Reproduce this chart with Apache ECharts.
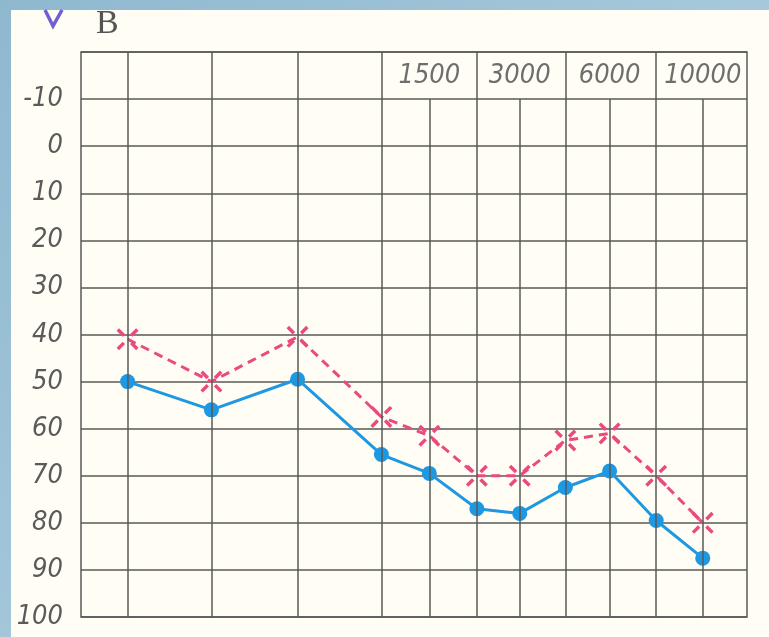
<!DOCTYPE html>
<html>
<head>
<meta charset="utf-8">
<script src="https://cdn.jsdelivr.net/npm/echarts@6/dist/echarts.min.js"></script>
<style>
  html, body { margin: 0; padding: 0; }
  body {
    width: 769px; height: 637px; overflow: hidden; position: relative;
    background: linear-gradient(135deg, #8fb8cf 0%, #a9cadc 60%, #9cc1d6 100%);
  }
  #paper {
    position: absolute; left: 11px; top: 10px; right: 0; bottom: 0;
    background: #fffdf4;
  }
  #chart { position: absolute; left: 0; top: 0; width: 769px; height: 637px; }
</style>
</head>
<body>
<div id="paper"></div>
<div id="chart"></div>
<script>
// частоты (Гц) и их место на шкале аудиограммы
const freqs = [125, 250, 500, 1000, 1500, 2000, 3000, 4000, 6000, 8000, 10000];
const freqPos = [1, 2.8, 4.65, 6.45, 7.48, 8.5, 9.42, 10.4, 11.35, 12.35, 13.35];
const posMax = 14.3;
// подписи частот в верхней строке
const topLabels = ['1500', '3000', '6000', '10000'];
// пороги слуха, дБ
const boneValues = [50, 56, 49.5, 65.5, 69.5, 77, 78, 72.5, 69, 79.5, 87.5];
const airValues = [41, 50, 40.5, 57.5, 61.5, 70, 70, 62.5, 61, 70, 80];

const gridColor = '#595959';
const labelFont = '"Liberation Sans Narrow", "DejaVu Sans Condensed", sans-serif';
const chart = echarts.init(document.getElementById('chart'));

// вертикальные линии сетки: полные и укороченные (под подписями)
const fullLines = [];
const shortLines = [];
freqs.forEach(function (f, i) {
  if (topLabels.indexOf(String(f)) >= 0) {
    shortLines.push([{ coord: [freqPos[i], -10] }, { coord: [freqPos[i], 100] }]);
  } else {
    fullLines.push({ xAxis: freqPos[i] });
  }
});

const crossPath = 'path://M1,3 L3,1 L8,6 L6,8 Z M17,1 L19,3 L14,8 L12,6 Z M1,17 L6,12 L8,14 L3,19 Z M12,14 L14,12 L19,17 L17,19 Z';

const option = {
  animation: false,
  grid: {
    left: 81, top: 52, width: 666, height: 565,
    show: true, borderColor: gridColor, borderWidth: 1.5,
    backgroundColor: 'transparent'
  },
  xAxis: {
    type: 'value', min: 0, max: posMax,
    axisLine: { show: false }, axisTick: { show: false },
    axisLabel: { show: false }, splitLine: { show: false }
  },
  yAxis: {
    type: 'value', inverse: true, min: -20, max: 100, interval: 10,
    axisLine: { show: false }, axisTick: { show: false },
    axisLabel: {
      margin: 18,
      color: '#5a5a5a',
      fontSize: 27,
      fontStyle: 'italic',
      fontFamily: labelFont,
      fontWeight: 'normal',
      formatter: function (v) { return v === -20 ? '' : String(v); }
    },
    splitLine: { lineStyle: { color: gridColor, width: 1.5 } }
  },
  graphic: [
    {
      type: 'text', left: 96, top: 7,
      style: { text: 'B', fontSize: 34, fontFamily: 'Liberation Serif', fill: '#555' }
    },
    {
      type: 'polyline',
      shape: { points: [[45, 10], [53, 26], [62, 10]] },
      style: { stroke: '#6f5fd0', lineWidth: 3.5, fill: 'none' }
    }
  ],
  series: [
    {
      type: 'line',
      name: 'grid',
      data: [],
      silent: true,
      markLine: {
        symbol: 'none', silent: true, label: { show: false },
        lineStyle: { color: gridColor, width: 1.5, type: 'solid' },
        data: fullLines.concat(shortLines)
      }
    },
    {
      type: 'scatter',
      name: 'labels',
      symbolSize: 0,
      silent: true,
      data: topLabels.map(function (t) {
        return { value: [freqPos[freqs.indexOf(Number(t))], -15], name: t };
      }),
      label: {
        show: true, position: 'inside',
        formatter: '{b}',
        color: '#4a4a4a', fontSize: 27, fontStyle: 'italic',
        fontFamily: labelFont
      }
    },
    {
      type: 'line',
      name: 'air',
      data: freqPos.map(function (p, i) { return [p, airValues[i]]; }),
      symbol: crossPath,
      symbolSize: 22,
      itemStyle: { color: '#ea4a7e' },
      lineStyle: { color: '#ea4a7e', width: 3, type: [9, 6] },
      z: 3
    },
    {
      type: 'line',
      name: 'bone',
      data: freqPos.map(function (p, i) { return [p, boneValues[i]]; }),
      symbol: 'circle',
      symbolSize: 15,
      itemStyle: { color: '#1f98e2' },
      lineStyle: { color: '#1f98e2', width: 3 },
      z: 4
    }
  ]
};

chart.setOption(option);
</script>
</body>
</html>
